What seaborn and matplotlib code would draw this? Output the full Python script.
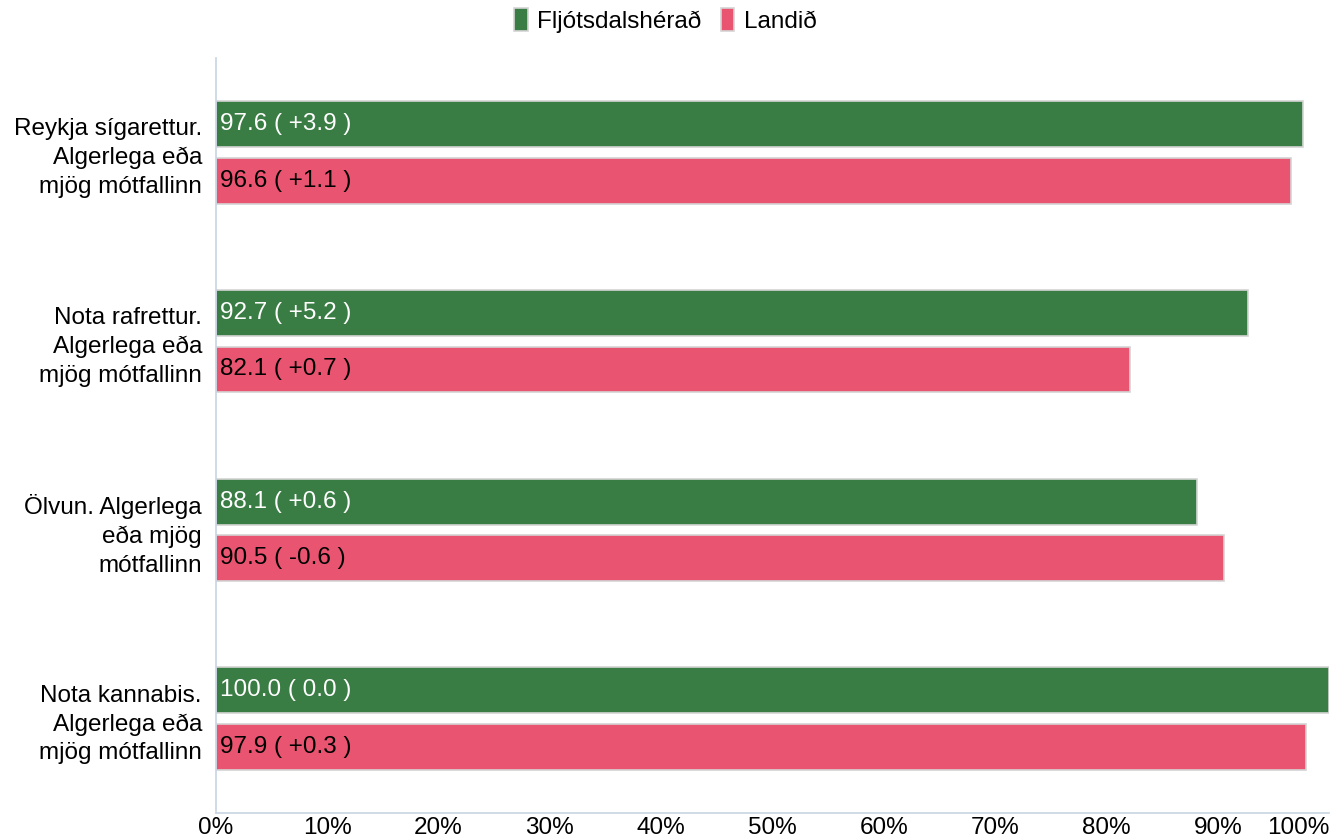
import numpy as np
import pandas as pd
import matplotlib.pyplot as plt
import matplotlib.font_manager as fm
import seaborn as sns

flokkar = [
    "Reykja sígarettur.\nAlgerlega eða\nmjög mótfallinn",
    "Nota rafrettur.\nAlgerlega eða\nmjög mótfallinn",
    "Ölvun. Algerlega\neða mjög\nmótfallinn",
    "Nota kannabis.\nAlgerlega eða\nmjög mótfallinn",
]
raðir = ["Fljótsdalshérað", "Landið"]
fljotsdalsherad = [97.6, 92.7, 88.1, 100.0]
fljotsdalsherad_breyting = ["+3.9", "+5.2", "+0.6", "0.0"]
landid = [96.6, 82.1, 90.5, 97.9]
landid_breyting = ["+1.1", "+0.7", "-0.6", "+0.3"]

litir = {"Fljótsdalshérað": "#3a7d44", "Landið": "#e95470"}

df = pd.DataFrame({
    "flokkur": flokkar * 2,
    "hópur": [raðir[0]] * 4 + [raðir[1]] * 4,
    "gildi": fljotsdalsherad + landid,
    "breyting": fljotsdalsherad_breyting + landid_breyting,
})

# vil ekki fá mjóa útgáfu af Liberation Sans
fm.fontManager.ttflist = [f for f in fm.fontManager.ttflist if "Narrow" not in f.fname]
if hasattr(fm.fontManager, "_findfont_cached"):
    fm.fontManager._findfont_cached.cache_clear()

sns.set_style("white")
plt.rcParams['font.family'] = ['Liberation Sans', 'DejaVu Sans']
plt.rcParams['text.color'] = 'black'
plt.rcParams['xtick.color'] = 'black'
plt.rcParams['ytick.color'] = 'black'

fs = 17.5
fig = plt.figure(figsize=(13.32, 8.4), dpi=100)
ax = fig.add_axes([0.162, 0.032, 0.836, 0.899])

sns.barplot(data=df, y="flokkur", x="gildi", hue="hópur", order=flokkar,
            hue_order=raðir, palette=litir, orient="h", width=0.6, gap=0.19,
            saturation=1, edgecolor="#d4d4d4", linewidth=1.2, legend=True, ax=ax)

# merkingar inni i sulunum
for cont, hopur in zip(ax.containers, raðir):
    sub = df[df["hópur"] == hopur].set_index("flokkur").loc[flokkar]
    textalitur = "white" if hopur == raðir[0] else "black"
    for rect, (g, b) in zip(cont, zip(sub["gildi"], sub["breyting"])):
        y = rect.get_y() + rect.get_height() / 2
        ax.text(0.4, y, f"{g:.1f} ( {b} )", color=textalitur, fontsize=fs,
                va="center", ha="left")

ax.set_xlim(0, 100)
ax.set_ylim(3.5, -0.5)
ax.set_xticks(np.arange(0, 101, 10))
ax.set_xticklabels([f"{v}%" for v in range(0, 101, 10)])
ax.get_xticklabels()[-1].set_horizontalalignment("right")
ax.set_xlabel("")
ax.set_ylabel("")
ax.tick_params(axis="x", length=0, labelsize=fs, pad=3)
ax.tick_params(axis="y", which="major", length=0, labelsize=fs, pad=10)
ax.set_yticks([0.5, 1.5, 2.5], minor=True)
ax.tick_params(axis="y", which="minor", length=10, color="#c8d4e3", width=1)

for s in ["top", "right"]:
    ax.spines[s].set_visible(False)
for s in ["left", "bottom"]:
    ax.spines[s].set_color("#c8d4e3")
    ax.spines[s].set_linewidth(1.2)

for lab in ax.get_yticklabels():
    lab.set_multialignment("right")
    lab.set_linespacing(1.38)

handles, labels = ax.get_legend_handles_labels()
ax.legend(handles, labels, loc="upper center", bbox_to_anchor=(0.404, 1.095),
          ncol=2, frameon=False, fontsize=fs, handlelength=0.55, handleheight=1.1,
          handletextpad=0.4, columnspacing=0.8)

fig.savefig("out.png", dpi=100)
